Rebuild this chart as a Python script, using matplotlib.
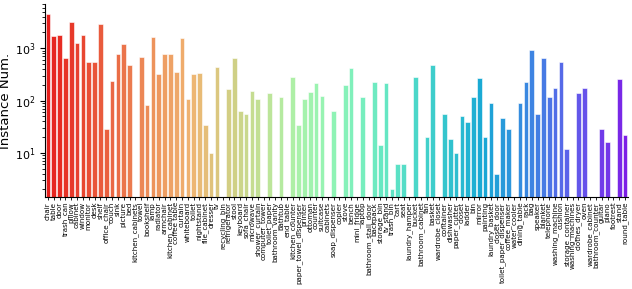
import matplotlib
matplotlib.use("Agg")
import matplotlib.pyplot as plt
import seaborn as sns
import numpy as np

categories = [
    "chair", "table", "door", "trash_can", "pillow", "cabinet", "window", "monitor", "desk", "shelf",
    "office_chair", "couch", "sink", "picture", "bed", "kitchen_cabinets", "towel", "bookshelf", "lamp", "radiator",
    "armchair", "kitchen_cabinet", "coffee table", "curtain", "whiteboard", "toilet", "nightstand", "file_cabinet", "dresser", "tv",
    "recycling_bin", "refrigerator", "stool", "keyboard", "sofa_chair", "microwave", "shower_curtain", "computer_tower", "toilet_paper", "bathroom_vanity",
    "bathtub", "end_table", "kitchen_counter", "paper_towel_dispenser", "printer", "ottoman", "counter", "suitcase", "cabinets", "soap_dispenser",
    "copier", "stove", "bench", "mini_fridge", "laptop", "bathroom_stall_door", "backpack", "storage_bin", "tv_stand", "trash_bin",
    "cart", "seat", "laundry_hamper", "bucket", "bathroom_cabinet", "fan", "basket", "wardrobe_closet", "container", "dishwasher",
    "paper_cutter", "closet", "ladder", "bin", "mirror", "painting", "laundry_basket", "closet_door", "toilet_paper_dispenser", "coffee_maker",
    "water_cooler", "dining_table", "rack", "bag", "speaker", "blanket", "telephone", "washing_machine", "cushion", "storage_container",
    "washing_machines", "clothes_dryer", "oven", "wardrobe_cabinet", "bathroom_counter", "guitar", "piano", "footrest", "stand", "round_table",
]

counts = [
    4540, 1740, 1800, 643, 3190, 1263, 1800, 547, 555, 2925,
    28, 240, 768, 1208, 479, 0, 690, 81, 1626, 326,
    777, 768, 356, 1575, 108, 318, 330, 34, 10, 432,
    0, 164, 643, 64, 56, 152, 105, 0, 139, 0,
    117, 0, 282, 34, 108, 147, 219, 122, 0, 64,
    0, 201, 420, 0, 118, 0, 229, 14, 219, 2,
    6, 6, 0, 282, 0, 20, 472, 0, 55, 18,
    10, 50, 39, 118, 266, 20, 88, 4, 46, 28,
    0, 91, 226, 927, 55, 643, 115, 173, 547, 12,
    0, 141, 173, 0, 0, 28, 16, 0, 255, 22,
]

colors = sns.color_palette("rainbow_r", len(categories), desat=0.8)

fig = plt.figure(figsize=(6.32, 2.89), dpi=100)
ax = fig.add_axes([45 / 632, 92 / 289, 583 / 632, 193 / 289])

x = np.arange(len(categories))
ax.bar(x, counts, width=0.8, color=colors, edgecolor="white", linewidth=0.4)
ax.set_yscale("log")
ax.set_ylim(1.43, 7000)
ax.set_xlim(-0.5, len(categories) - 0.5)

ax.set_xticks(x)
ax.set_xticklabels(categories, rotation=90, fontsize=5.1)
ax.tick_params(axis="x", length=2.5, width=0.6, pad=1)
ax.tick_params(axis="y", labelsize=8)
ax.set_ylabel("Instance Num.", fontsize=9.5, labelpad=2)

for side in ["top", "right"]:
    ax.spines[side].set_visible(False)

fig.savefig("out.png", dpi=100)
